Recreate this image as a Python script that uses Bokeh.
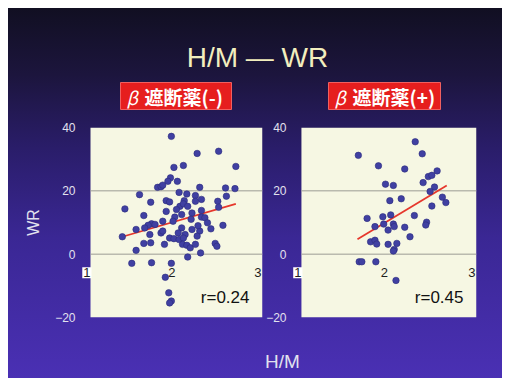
from bokeh.plotting import figure
from bokeh.layouts import column, row
from bokeh.models import Range1d, FixedTicker, Label, Spacer
from bokeh.embed import file_html
from bokeh.resources import INLINE
from bokeh.core.properties import value

# ---------------- data ----------------
TITLE = "H/M — WR"
GROUP_NAMES = ["遮断薬(-)", "遮断薬(+)"]
GROUP_PREFIX = "β"
R_LABELS = ["r=0.24", "r=0.45"]
X_LABEL = "H/M"
Y_LABEL = "WR"
Y_TICKS = [-20, 0, 20, 40]
Y_GRID = [0, 20]
X_TICKS = [1, 2, 3]
X_TICK_LABELS = ["1", "2", "3"]

left_x = [1.94, 2.24, 2.49, 2.69, 1.97, 2.08, 1.93, 2.01, 1.78, 1.82, 1.84, 1.90,
          2.27, 2.57, 2.68, 2.58, 1.57, 1.70, 1.40, 1.88, 1.92, 2.09, 2.22, 2.29,
          2.22, 2.04, 2.08, 2.00, 2.13, 2.18, 2.48, 2.49, 1.62, 1.98, 2.06, 2.29,
          2.29, 1.84, 1.71, 1.67, 1.75, 1.96, 2.33, 2.36, 1.53, 1.63, 1.69, 1.82,
          1.84, 2.06, 2.02, 2.10, 2.18, 2.27, 2.24, 2.54, 1.37, 1.92, 1.97, 2.03,
          2.08, 1.62, 1.70, 1.86, 2.07, 2.12, 2.16, 2.22, 2.45, 2.47, 1.53, 2.28,
          2.13, 1.48, 1.71, 1.94, 1.87, 1.91, 1.94, 1.92, 2.17, 2.25, 1.88, 2.40,
          2.12, 2.03]
left_y = [37.2, 31.8, 32.5, 27.7, 27.4, 28.0, 24.1, 23.0, 21.1, 21.3, 21.8, 23.0,
          21.1, 20.9, 20.7, 18.3, 18.8, 16.4, 14.3, 16.9, 16.5, 16.9, 18.5, 17.3,
          16.7, 15.1, 15.9, 14.1, 15.1, 13.0, 16.7, 14.8, 12.2, 11.7, 12.5, 13.8,
          11.7, 10.4, 9.6, 9.1, 9.4, 10.4, 11.5, 9.9, 7.8, 8.3, 6.2, 6.7,
          7.3, 8.3, 6.7, 6.2, 7.8, 7.3, 5.7, 9.1, 5.5, 5.1, 4.9, 4.6,
          5.1, 3.4, 3.6, 3.1, 3.1, 2.8, 2.0, 3.1, 3.4, 2.5, 1.2, 0.4,
          -0.9, -2.9, -2.7, -2.9, -7.3, -12.2, -14.8, -15.4, 11.0, 9.0, 13.5, 8.0,
          19.0, 19.5]

right_x = [2.30, 2.38, 1.65, 1.88, 2.18, 2.55, 2.45, 2.49, 2.39, 1.96, 2.05, 2.52,
           2.47, 2.14, 2.01, 2.61, 2.65, 2.49, 1.75, 1.93, 2.02, 2.29, 1.94, 2.05,
           2.06, 1.84, 2.18, 1.99, 2.43, 2.42, 2.24, 1.79, 1.84, 1.86, 1.99, 2.09,
           2.06, 2.05, 1.66, 1.69, 1.85, 2.08]
right_y = [35.5, 31.7, 31.2, 27.9, 26.9, 26.3, 24.5, 24.9, 22.6, 22.1, 21.7, 21.2,
           19.8, 17.5, 16.9, 18.0, 16.3, 15.2, 11.3, 11.8, 12.4, 12.2, 9.5, 9.5,
           8.7, 8.7, 8.5, 7.6, 10.1, 9.2, 5.5, 3.9, 4.4, 3.2, 3.1, 3.4,
           1.5, 1.0, -2.4, -2.4, -2.4, -8.3]

left_fit_x = [1.37, 2.69]
left_fit_y = [5.5, 15.9]
right_fit_x = [1.64, 2.66]
right_fit_y = [4.7, 21.7]

# ---------------- style ----------------
W = 494
SANS = value("Liberation Sans")
CJK = value("Noto Sans CJK JP")
DOT = "#4040a2"
FIT = "#e6372c"
PANEL_BG = "#f6f7e3"
LIGHT = "#e2e2ee"
RED = "#e61e1e"
PAD = 12  # px of frame kept left of each panel, room for the boxed "1" tick label


def pixel_fig(h):
    f = figure(width=W, height=h, x_range=Range1d(0, W), y_range=Range1d(h, 0),
               x_axis_type=None, y_axis_type=None, output_backend="svg",
               toolbar_location=None, min_border=0)
    f.grid.visible = False
    f.outline_line_color = None
    f.background_fill_alpha = 0
    f.border_fill_alpha = 0
    return f


# header: title + red group boxes
hdr = pixel_fig(112)
hdr.text(x=[249], y=[49], text=[TITLE], text_align="center", text_baseline="middle",
         text_font=SANS, text_font_size="28px", text_color="#f2eebe")
box_left = [112, 320]
box_right = [223, 432]
hdr.quad(left=box_left, right=box_right, top=[74, 74], bottom=[101, 101],
         fill_color=RED, line_color="#f06060", line_width=1)
hdr.text(x=[b + 6 for b in box_left], y=[88, 88], text=[GROUP_PREFIX] * 2,
         text_align="left", text_baseline="middle", text_font=CJK,
         text_font_style="italic", text_font_size="18px", text_color="white")
hdr.text(x=[b + 24 for b in box_left], y=[88, 88], text=GROUP_NAMES,
         text_align="left", text_baseline="middle", text_font=CJK,
         text_font_style="bold", text_font_size="19px", text_color="white")


def panel(xs, ys, fx, fy, rlab, width, mbl, mbr, panel_px, ylabel):
    x0, x1 = X_TICKS[0], X_TICKS[-1]
    ext = PAD * (x1 - x0) / panel_px
    p = figure(width=width, height=220, x_range=Range1d(x0 - ext, x1),
               y_range=Range1d(Y_TICKS[0], Y_TICKS[-1]),
               x_axis_type=None, output_backend="svg", toolbar_location=None,
               min_border_left=mbl, min_border_right=mbr, min_border_top=7,
               min_border_bottom=23)
    p.background_fill_alpha = 0
    p.border_fill_alpha = 0
    p.outline_line_color = None
    p.ygrid.visible = False
    ax = p.yaxis[0]
    ax.ticker = FixedTicker(ticks=Y_TICKS)
    ax.axis_line_color = None
    ax.major_tick_line_color = None
    ax.minor_tick_line_color = None
    ax.major_tick_out = 0
    ax.major_tick_in = 0
    ax.major_label_standoff = 3
    ax.major_label_text_color = LIGHT
    ax.major_label_text_font = "Liberation Sans"
    ax.major_label_text_font_size = "12px"
    if ylabel:
        ax.axis_label = ylabel
        ax.axis_label_text_color = LIGHT
        ax.axis_label_text_font = "Liberation Sans"
        ax.axis_label_text_font_style = "normal"
        ax.axis_label_text_font_size = "16px"
        ax.axis_label_standoff = 10

    # panel plotting area
    p.quad(left=[x0], right=[x1], bottom=[Y_TICKS[0]], top=[Y_TICKS[-1]],
           fill_color=PANEL_BG, line_color=None)
    p.segment(x0=[x0] * len(Y_GRID), x1=[x1] * len(Y_GRID), y0=Y_GRID, y1=Y_GRID,
              line_color="#9c9c94", line_width=1)

    p.line(fx, fy, line_color=FIT, line_width=1.8)
    p.scatter(xs, ys, size=6.5, fill_color=DOT, line_color="#2c2c7c", line_width=0.6)

    for i, (t, lab) in enumerate(zip(X_TICKS, X_TICK_LABELS)):
        p.add_layout(Label(x=t, y=0, x_offset=1 if i == 0 else 0, y_offset=-24,
                           text=lab, text_align="right", text_baseline="bottom",
                           text_font="Liberation Sans", text_font_size="13px",
                           text_color="#1e1e1e", padding=1,
                           background_fill_color="white" if i == 0 else None))
    p.add_layout(Label(x=x1, y=Y_TICKS[0], x_offset=-13, y_offset=11,
                       text=rlab, text_align="right", text_baseline="bottom",
                       text_font="Liberation Sans", text_font_size="17px",
                       text_color="#111111"))
    return p


left = panel(left_x, left_y, left_fit_x, left_fit_y, R_LABELS[0],
             255, 82 - PAD, 1, 172, Y_LABEL)
right = panel(right_x, right_y, right_fit_x, right_fit_y, R_LABELS[1],
              239, 37 - PAD, 26, 176, None)

# footer: x axis label
ftr = pixel_fig(38)
ftr.text(x=[274], y=[21], text=[X_LABEL], text_align="center", text_baseline="middle",
         text_font=SANS, text_font_size="19px", text_color=LIGHT)

slide = column(hdr, row(left, right), ftr,
               styles={"background": "linear-gradient(to bottom, #110f22 0%, #1c153d 18%, "
                                     "#2a1d6a 38%, #3a2794 62%, #4a30b4 100%)"})
page = column(Spacer(width=W + 8, height=8), row(Spacer(width=8, height=370), slide))

open("out.html", "w").write(file_html(page, INLINE))
